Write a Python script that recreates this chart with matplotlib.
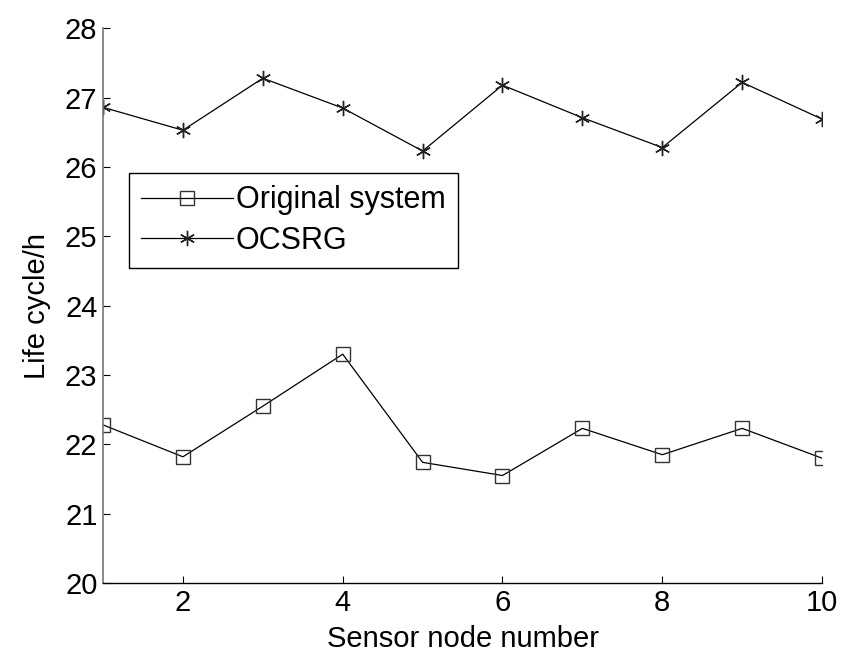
import numpy as np
import matplotlib
matplotlib.use('Agg')
import matplotlib.pyplot as plt

plt.rcParams['font.family'] = ['Liberation Sans', 'DejaVu Sans']

# data
nodes = [1, 2, 3, 4, 5, 6, 7, 8, 9, 10]
original = [22.28, 21.82, 22.55, 23.30, 21.74, 21.55, 22.23, 21.85, 22.23, 21.80]
ocsrg = [26.86, 26.53, 27.28, 26.85, 26.23, 27.18, 26.71, 26.28, 27.22, 26.69]
xticks = [2, 4, 6, 8, 10]
yticks = [20, 21, 22, 23, 24, 25, 26, 27, 28]

fig = plt.figure(figsize=(8.41, 6.58), dpi=100)
ax = fig.add_axes([0.1225, 0.114, 0.855, 0.843])

ax.plot(nodes, original, color='black', lw=0.9, marker='s', ms=9.5,
        mfc='none', mec='#333333', mew=1.0, label='Original system')
ax.plot(nodes, ocsrg, color='black', lw=0.9, marker=(6, 2, 0), ms=11,
        mec='#222222', mew=1.0, label='OCSRG')

ax.set_xlim(1, 10)
ax.set_ylim(20, 28)
ax.set_xticks(xticks)
ax.set_yticks(yticks)
ax.tick_params(direction='in', length=5, width=0.8, labelsize=21, pad=4)

ax.spines['top'].set_visible(False)
ax.spines['right'].set_visible(False)
ax.spines['left'].set_color('#777777')
ax.spines['left'].set_linewidth(1.2)
ax.spines['bottom'].set_linewidth(1.0)

ax.set_xlabel('Sensor node number', fontsize=21, labelpad=6)
ax.set_ylabel('Life cycle/h', fontsize=21, labelpad=10)

leg = ax.legend(loc='upper left', bbox_to_anchor=(0.036, 0.739),
                borderaxespad=0, fancybox=False, framealpha=1,
                edgecolor='black', fontsize=22, handlelength=3.0,
                handletextpad=0.1, borderpad=0.4, labelspacing=0.35)
leg.get_frame().set_linewidth(1.0)

fig.savefig('out.png', dpi=100)
